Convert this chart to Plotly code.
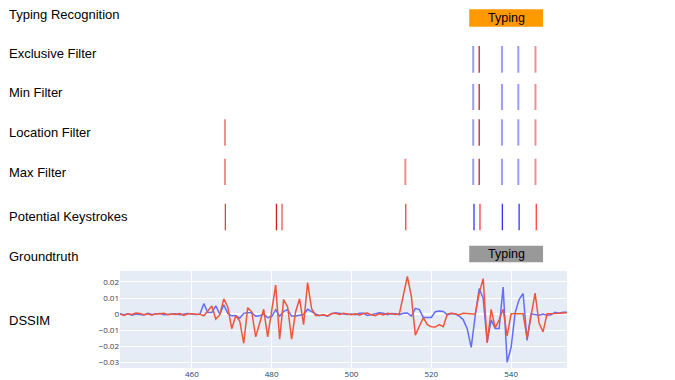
import plotly.graph_objects as go

# DSSIM curves, one value per frame
frames = list(range(442, 555))
dssim_blue = [
    0.0002, -0.0004, 0.0003, -0.0006, 0.0001, -0.0003, -0.0005, 0.0006, -0.0002, 0.0001,
    0.0004, -0.0003, -0.0002, 0.0003, 0.0002, -0.0004, 0.0002, 0.0004, 0.0001, -0.0002,
    0.0, 0.0065, 0.001, 0.001, 0.0052, 0.0, 0.0058, 0.0005, -0.001, -0.0008,
    -0.0025, 0.0005, 0.0008, 0.0008, -0.0012, -0.001, 0.0002, -0.0022, -0.0015, 0.0028,
    -0.0012, 0.0018, 0.0028, -0.0012, -0.0012, -0.0005, -0.0002, 0.003, 0.0015, 0.0002,
    -0.0008, -0.0005, -0.0012, 0.0002, 0.0008, 0.0006, 0.0003, -0.0002, 0.0001, -0.0004,
    0.0006, 0.0005, -0.0008, -0.0005, 0.0002, 0.0008, 0.0006, -0.0003, 0.0004, 0.0002,
    -0.0003,
    0.0006, 0.0007, -0.0012, 0.0036, 0.0028, -0.002, -0.002, -0.002, 0.0015, 0.002,
    0.0017, -0.0004, 0.0004, 0.0002, -0.0012, -0.0035, -0.009, -0.0205, -0.001, 0.0158,
    0.0098, -0.0172, -0.0035, -0.0088, -0.0088, 0.0168, -0.0298, -0.0205, 0.0008, 0.009,
    0.0128, -0.0162, 0.0002, -0.0003, -0.0006, 0.0001, -0.0006, -0.0004, 0.0012, 0.0006,
    0.0012, 0.0012,
]
dssim_red = [
    0.0001, -0.0008, 0.0003, -0.0002, 0.0007, 0.0004, -0.0004, 0.0002, -0.0007, 0.0003,
    0.0002, 0.0005, -0.0003, 0.0001, -0.0002, 0.0004, -0.0008, 0.0002, 0.0003, -0.0001,
    0.0, -0.001, 0.002, 0.005, -0.003, -0.0005, 0.0095, 0.0045, -0.009, -0.001,
    -0.0042, -0.018, 0.004, 0.0015, -0.014, -0.005, 0.003, -0.014, 0.002, 0.018,
    -0.0155, 0.009, 0.0045, -0.0155, 0.0015, 0.0095, -0.0065, 0.0195, 0.0035, -0.0008,
    -0.0009, -0.0003, -0.0011, 0.0004, 0.0006, -0.0002, 0.0005, 0.0002, -0.0003, 0.0003,
    -0.0006, 0.0004, 0.0007, -0.0004, -0.0009, 0.0003, -0.0005, 0.0005, 0.0001, -0.0002,
    0.0002,
    0.011, 0.0233, 0.011, -0.013, -0.0075, -0.0022, -0.0065, -0.0078, -0.008, -0.0065,
    -0.0078, 0.0, 0.0005, 0.0002, -0.0003, 0.0005, 0.0003, -0.0002, 0.0, 0.013,
    0.022, -0.0178, 0.003, -0.0085, -0.0035, 0.003, -0.0135, 0.0002, 0.0002, 0.0002,
    0.0002, -0.015, -0.001, 0.013, -0.0055, -0.011, 0.0003, 0.0002, 0.0004, 0.0006,
    0.0008, 0.0009,
]

# typing intervals (frames)
recognized_typing = [529.5, 548.0]
groundtruth_typing = [529.5, 548.0]

# keystroke frames per detection stage
exclusive_blue = [530.5, 537.7, 541.8]
exclusive_red = [532.0, 546.1]
min_blue = [530.5, 537.7, 541.8]
min_red = [532.0, 546.1]
location_blue = [530.5, 537.7, 541.8]
location_red = [468.3, 532.0, 546.1]
max_blue = [530.5, 537.7, 541.8]
max_red = [468.3, 513.5, 532.0, 546.1]
potential_blue = [530.7, 537.8, 542.0]
potential_red = [468.4, 481.2, 482.6, 513.6, 532.2, 546.3]

row_labels = ["Typing Recognition", "Exclusive Filter", "Min Filter", "Location Filter",
              "Max Filter", "Potential Keystrokes", "Groundtruth", "DSSIM"]

H = 360.0  # paper height in px


def py(p):
    # p: pixel row in the page (figure sits 8px down from the page top)
    return (H + 8 - p) / H


fig = go.Figure()
fig.add_trace(go.Scatter(x=frames, y=dssim_blue, mode="lines",
                         line=dict(color="#636EFA", width=1.5)))
fig.add_trace(go.Scatter(x=frames, y=dssim_red, mode="lines",
                         line=dict(color="#EF553B", width=1.5)))

# vertical keystroke lines (line strength per mark is only a display style)
light_blue = dict(color="rgba(90,90,255,0.6)", width=2)
strong_blue = dict(color="rgba(40,40,255,0.95)", width=1.3)
dark_red = dict(color="rgba(200,20,20,0.95)", width=1.3)
light_red = dict(color="rgba(240,80,80,0.65)", width=2)
strong_red = dict(color="rgba(255,40,40,0.9)", width=1.3)

rows = [
    (exclusive_blue, exclusive_red, 46, 72.7, [light_blue] * 3, [dark_red, light_red]),
    (min_blue, min_red, 84, 110, [light_blue] * 3, [dark_red, light_red]),
    (location_blue, location_red, 119.3, 145.7, [light_blue] * 3,
     [light_red, dark_red, light_red]),
    (max_blue, max_red, 158.7, 185, [light_blue] * 3,
     [light_red, light_red, dark_red, light_red]),
    (potential_blue, potential_red, 203.7, 230.3, [strong_blue] * 3,
     [strong_red, dark_red, light_red, strong_red, strong_red, strong_red]),
]
for blues, reds, top, bot, bstyle, rstyle in rows:
    for xv, st in list(zip(blues, bstyle)) + list(zip(reds, rstyle)):
        fig.add_shape(type="line", xref="x", yref="paper", x0=xv, x1=xv,
                      y0=py(bot), y1=py(top), line=st)

# typing boxes
for (x0, x1), top, bot, col in [(recognized_typing, 9.3, 26.7, "#FF9900"),
                                (groundtruth_typing, 245.7, 262.3, "#999999")]:
    fig.add_shape(type="rect", xref="x", yref="paper", x0=x0, x1=x1,
                  y0=py(bot), y1=py(top), fillcolor=col, line=dict(width=0))
    fig.add_annotation(x=(x0 + x1) / 2, y=py((top + bot) / 2), xref="x", yref="paper",
                       xanchor="center", yanchor="middle",
                       text="Typing", showarrow=False,
                       font=dict(family="Liberation Sans, Arial", size=12.5, color="black"))

# row labels on the left
label_y = [14.7, 53.3, 92.7, 132.3, 172, 216.3, 256, 320]
label_x = [7, 7, 7, 7, 7, 7, 7, 7]
for txt, ly, lx in zip(row_labels, label_y, label_x):
    fig.add_annotation(x=(lx - 120) / 447, y=py(ly), xref="paper", yref="paper",
                       xanchor="left", yanchor="middle", text=txt, showarrow=False,
                       font=dict(family="Liberation Sans, Arial", size=13, color="black"))

fig.update_layout(
    width=675, height=380,
    margin=dict(l=112, r=116, t=0, b=20),
    showlegend=False,
    template="plotly",
    yaxis=dict(domain=[0, 97 / H], range=[-0.0333, 0.0267], dtick=0.01,
               tickfont=dict(size=8), automargin=False),
    xaxis=dict(range=[442, 554], dtick=20, tickfont=dict(size=8), automargin=False),
)

fig.write_html("out.html")
